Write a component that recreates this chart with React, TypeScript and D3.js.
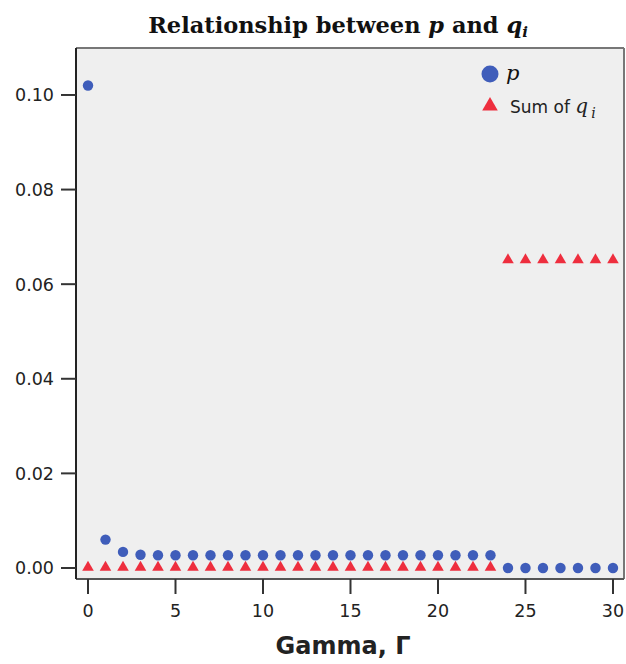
import React from "react";
import * as d3 from "d3";

const gammaValues = [0, 1, 2, 3, 4, 5, 6, 7, 8, 9, 10, 11, 12, 13, 14, 15, 16, 17, 18, 19, 20, 21, 22, 23, 24, 25, 26, 27, 28, 29, 30];
const pValues = [0.102, 0.006, 0.0034, 0.0028, 0.0027, 0.0027, 0.0027, 0.0027, 0.0027, 0.0027, 0.0027, 0.0027, 0.0027, 0.0027, 0.0027, 0.0027, 0.0027, 0.0027, 0.0027, 0.0027, 0.0027, 0.0027, 0.0027, 0.0027, 0, 0, 0, 0, 0, 0, 0];
const sumQValues = [0, 0, 0, 0, 0, 0, 0, 0, 0, 0, 0, 0, 0, 0, 0, 0, 0, 0, 0, 0, 0, 0, 0, 0, 0.065, 0.065, 0.065, 0.065, 0.065, 0.065, 0.065];
const yTicks = [0, 0.02, 0.04, 0.06, 0.08, 0.1];
const xTicks = [0, 5, 10, 15, 20, 25, 30];

const W = 626, H = 664;
const L = 76, R = 624, T = 48, B = 579;
const BLUE = "#3F5DBA";
const RED = "#EE2E3E";
const SANS = "'DejaVu Sans', Verdana, sans-serif";
const SERIF = "'DejaVu Serif', serif";

export default function App() {
  const x = d3.scaleLinear().domain([-0.686, 30.63]).range([L, R]);
  const y = d3.scaleLinear().domain([-0.00233, 0.10993]).range([B, T]);
  const tri = d3.symbol().type(d3.symbolTriangle).size(58)();
  const triLeg = d3.symbol().type(d3.symbolTriangle).size(105)();
  return (
    <svg width={W} height={H} style={{ position: "absolute", left: 0, top: 0 }}>
      <rect width={W} height={H} fill="#fff" />
      <rect x={L} y={T} width={R - L} height={B - T} fill="#EFEFEF" />
      <line x1={L} x2={R} y1={T} y2={T} stroke="#777" strokeWidth={2} />
      <line x1={R} x2={R} y1={T} y2={B} stroke="#777" strokeWidth={2} />
      <line x1={L} x2={R} y1={B} y2={B} stroke="#555" strokeWidth={2} />
      <line x1={L} x2={L} y1={T} y2={B} stroke="#222" strokeWidth={2} />
      <text x={338} y={33} textAnchor="middle" fontFamily={SERIF} fontWeight="bold" fontSize={22.5} fill="#111">
        Relationship between <tspan fontStyle="italic">p</tspan> and <tspan fontStyle="italic">q</tspan>
        <tspan fontStyle="italic" fontSize={15} dy={4}>i</tspan>
      </text>
      {yTicks.map((t) => (
        <g key={t}>
          <line x1={L - 15} x2={L} y1={y(t)} y2={y(t)} stroke="#333" strokeWidth={2} />
          <text x={54} y={y(t) + 6.5} textAnchor="end" fontFamily={SANS} fontSize={17.5} fill="#222">
            {t.toFixed(2)}
          </text>
        </g>
      ))}
      {xTicks.map((t) => (
        <g key={t}>
          <line x1={x(t)} x2={x(t)} y1={B} y2={B + 15} stroke="#333" strokeWidth={2} />
          <text x={x(t)} y={617} textAnchor="middle" fontFamily={SANS} fontSize={17.5} fill="#222">
            {t}
          </text>
        </g>
      ))}
      <text x={343} y={654} textAnchor="middle" fontFamily={SANS} fontWeight="bold" fontSize={24} fill="#222">
        Gamma, Γ
      </text>
      {gammaValues.map((g, i) => (
        <path key={"q" + g} d={tri as string} transform={`translate(${x(g)},${y(sumQValues[i]) - 0.5})`} fill={RED} />
      ))}
      {gammaValues.map((g, i) => (
        <circle key={"p" + g} cx={x(g)} cy={y(pValues[i])} r={5.2} fill={BLUE} />
      ))}
      <circle cx={490} cy={74} r={8.5} fill={BLUE} />
      <text x={506} y={80} fontFamily={SERIF} fontStyle="italic" fontSize={21} fill="#111">p</text>
      <path d={triLeg as string} transform="translate(490,106)" fill={RED} />
      <text x={510} y={113} fontFamily={SANS} fontSize={17} fill="#222">
        Sum of <tspan fontFamily={SERIF} fontStyle="italic" fontSize={20}>q</tspan>
        <tspan fontFamily={SERIF} fontStyle="italic" fontSize={14} dx={3} dy={5}>i</tspan>
      </text>
    </svg>
  );
}
